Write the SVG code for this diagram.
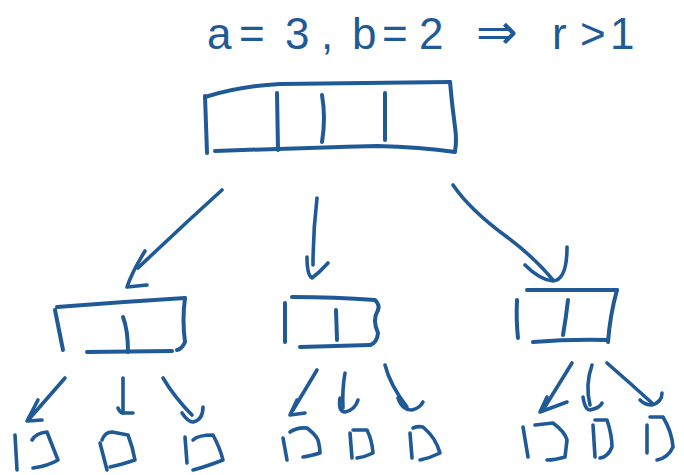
<svg xmlns="http://www.w3.org/2000/svg" width="684" height="475" viewBox="0 0 684 475">
  <style>
    .ink { fill: none; stroke: #1f5a97; stroke-width: 4; stroke-linecap: round; stroke-linejoin: round; }
    .thin { stroke-width: 3.6; }
    .hand { fill: #1f5a97; font-family: "Liberation Sans", "DejaVu Sans", sans-serif; font-size: 44px; }
  </style>
  <rect width="684" height="475" fill="#ffffff"/>

  <!-- heading formula -->
  <g id="formula">
    <text class="hand" y="49"><tspan x="207">a</tspan> <tspan x="239">=</tspan> <tspan x="285">3</tspan> <tspan x="321">,</tspan> <tspan x="352">b</tspan> <tspan x="382">=</tspan> <tspan x="419">2</tspan> <tspan x="476" font-family="DejaVu Sans, sans-serif" font-size="50">⇒</tspan> <tspan x="552">r</tspan> <tspan x="580">&gt;</tspan> <tspan x="610">1</tspan></text>
  </g>

  <!-- root array: four cells -->
  <g id="node-root" class="ink">
    <path d="M205,97 Q240,86 280,84 L450,82"/>
    <path d="M450,82 Q452,105 455,127 Q457,140 455,151"/>
    <path d="M215,151 Q300,148 377,146 Q420,147 455,152"/>
    <path d="M205,96 L207,153"/>
    <path d="M277,93 L278,150"/>
    <path d="M322,95 Q326,118 322,142"/>
    <path d="M385,93 L385,140"/>
  </g>

  <!-- second level arrays: two cells each -->
  <g id="node-left" class="ink">
    <path d="M57,307 Q120,302 185,298"/>
    <path d="M55,310 L63,350"/>
    <path d="M185,298 Q182,320 185,342 Q182,349 177,350"/>
    <path d="M87,352 L172,351"/>
    <path d="M123,317 Q128,330 128,352"/>
  </g>
  <g id="node-middle" class="ink">
    <path d="M292,297 Q335,297 375,300 Q380,305 378,310"/>
    <path d="M378,310 Q372,320 378,333 Q377,343 370,345"/>
    <path d="M300,347 Q335,346 370,345"/>
    <path d="M285,303 L285,342"/>
    <path d="M336,310 L337,340"/>
  </g>
  <g id="node-right" class="ink">
    <path d="M527,290 L617,290"/>
    <path d="M617,290 Q610,315 608,342"/>
    <path d="M533,342 Q570,339 608,340"/>
    <path d="M517,300 Q516,320 518,338"/>
    <path d="M568,300 Q566,318 563,335"/>
  </g>

  <!-- leaves -->
  <g id="leaf-1" class="ink thin">
    <path d="M15,435 L17,470"/>
    <path d="M32,440 Q36,433 47,432 Q52,445 58,460 Q48,466 33,468"/>
  </g>
  <g id="leaf-2" class="ink thin">
    <path d="M100,443 L107,470"/>
    <path d="M102,440 Q105,432 112,432 L128,435 Q133,448 135,460 Q120,465 110,467"/>
  </g>
  <g id="leaf-3" class="ink thin">
    <path d="M185,437 L187,463"/>
    <path d="M193,440 Q198,435 213,435 Q220,448 223,460 Q205,467 193,470"/>
  </g>
  <g id="leaf-4" class="ink thin">
    <path d="M283,438 L287,460"/>
    <path d="M290,432 Q297,427 307,428 Q316,435 318,440 Q320,448 320,453 Q310,456 303,457"/>
  </g>
  <g id="leaf-5" class="ink thin">
    <path d="M350,433 L352,458"/>
    <path d="M353,430 L367,430 Q372,440 373,453 Q365,457 357,458"/>
  </g>
  <g id="leaf-6" class="ink thin">
    <path d="M410,433 L412,458"/>
    <path d="M413,428 Q418,426 423,427 Q436,438 440,453 Q430,458 420,460"/>
  </g>
  <g id="leaf-7" class="ink thin">
    <path d="M523,427 L528,457"/>
    <path d="M535,425 L553,423 Q565,432 567,440 L565,457 Q555,460 547,460"/>
  </g>
  <g id="leaf-8" class="ink thin">
    <path d="M593,425 L595,457"/>
    <path d="M595,420 L607,420 Q612,435 612,447 Q608,457 600,458"/>
  </g>
  <g id="leaf-9" class="ink thin">
    <path d="M647,425 L647,453"/>
    <path d="M650,417 L663,417 Q672,432 673,447 Q668,458 657,460"/>
  </g>

  <!-- arrows -->
  <g id="connectors" class="ink thin">
    <path d="M222,190 Q180,228 138,268"/>
    <path d="M145,251 Q132,272 127,287 L147,285"/>
    <path d="M317,198 Q313,232 313,265"/>
    <path d="M307,257 Q307,275 312,278 Q320,272 328,263"/>
    <path d="M453,185 Q470,210 507,237 Q535,258 553,280"/>
    <path d="M525,265 Q540,280 553,281 Q567,280 567,247"/>

    <path d="M65,378 L30,418"/>
    <path d="M38,400 L27,421 L42,420"/>
    <path d="M123,378 L123,413"/>
    <path d="M118,408 Q120,413 123,413 L133,413"/>
    <path d="M163,378 Q175,398 192,415"/>
    <path d="M182,413 Q188,422 193,422 Q203,420 203,407"/>

    <path d="M317,370 L293,410"/>
    <path d="M297,400 L290,415 L305,413"/>
    <path d="M345,373 Q342,390 343,408"/>
    <path d="M340,398 Q338,412 345,412 Q355,410 358,400"/>
    <path d="M385,365 Q390,385 407,407"/>
    <path d="M398,398 Q402,410 412,410 Q420,408 423,402"/>

    <path d="M572,363 L543,410"/>
    <path d="M547,397 L540,412 L567,402"/>
    <path d="M592,365 Q585,385 590,405"/>
    <path d="M583,397 Q585,410 590,410 Q600,408 602,403"/>
    <path d="M607,363 Q630,383 652,403"/>
    <path d="M640,400 Q645,405 652,405 Q662,402 662,393"/>
  </g>
</svg>
